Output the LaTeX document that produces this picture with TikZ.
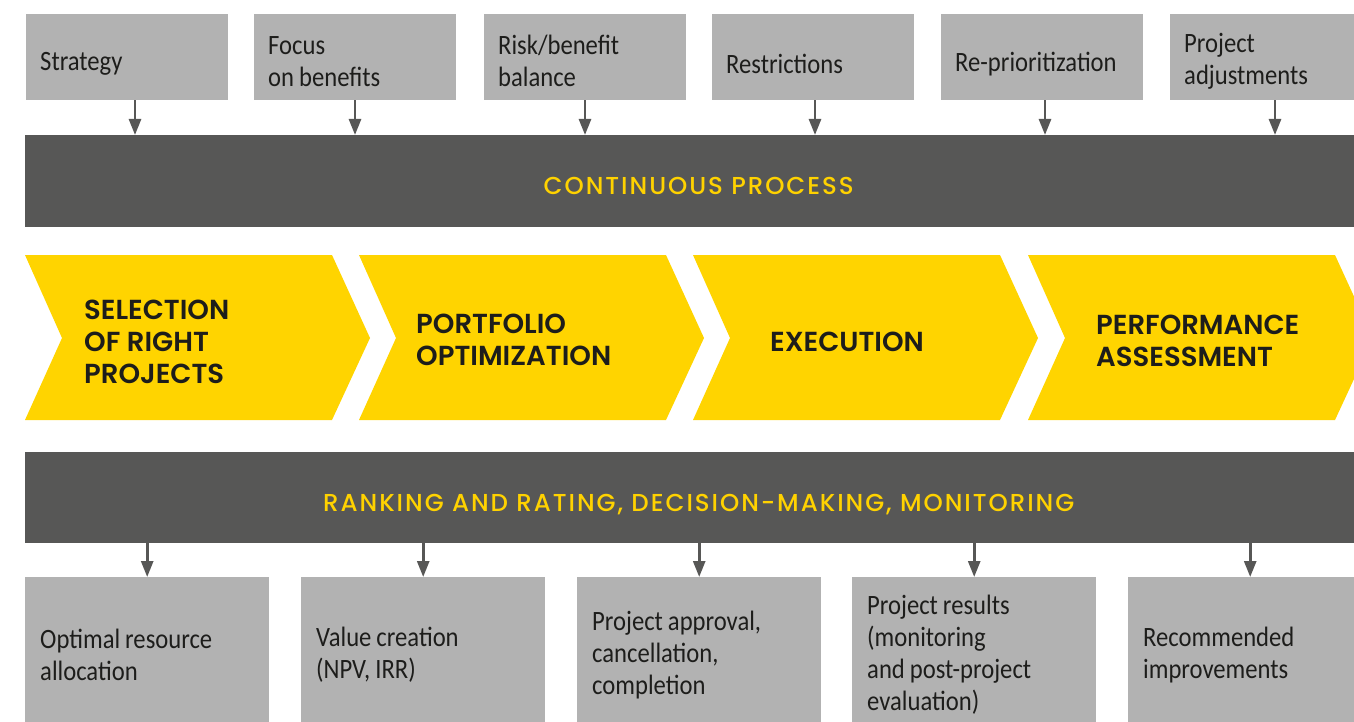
\documentclass[tikz,border=0pt]{standalone}
\usepackage{fontspec}
\setmainfont{Carlito}
\newfontfamily\boxfont{Carlito}[FakeStretch=0.88,WordSpace=0.9]
\newfontfamily\chevfont{Poppins SemiBold}
\newfontfamily\barfont{Poppins Medium}[LetterSpace=8]
\usetikzlibrary{arrows.meta}
\definecolor{boxgray}{HTML}{B2B2B2}
\definecolor{darkbar}{HTML}{575756}
\definecolor{chevyellow}{HTML}{FFD400}
\definecolor{baryellow}{HTML}{FFD200}
\definecolor{textdark}{HTML}{1D1D1B}
\begin{document}
\begin{tikzpicture}[x=1pt,y=-1pt,
  boxtext/.style={align=left, text=textdark, inner sep=0pt,
    font=\boxfont\fontsize{28}{32}\selectfont},
  topbox/.style={fill=boxgray, draw=none, anchor=north west, inner sep=0pt,
    minimum width=202pt, minimum height=86pt},
  toplabel/.style 2 args={label={[boxtext, anchor=west, xshift=14pt, yshift=#2]west:#1}},
  botbox/.style={fill=boxgray, draw=none, anchor=north west, inner sep=0pt,
    minimum width=244pt, minimum height=156pt},
  botlabel/.style={label={[boxtext, anchor=west, xshift=15pt]west:#1}},
  bar/.style={fill=darkbar, draw=none, anchor=north west, inner sep=0pt, minimum width=1347pt,
    text height=27pt, text depth=0pt,
    text=baryellow, font=\barfont\fontsize{24.5}{28}\selectfont},
  chev/.style={fill=chevyellow, draw=none},
  chevtext/.style={anchor=west, align=left, inner sep=0pt, text=textdark,
    font=\chevfont\fontsize{27.5}{32}\selectfont},
  arr/.style={draw=darkbar, line width=2.7pt, -{Triangle[width=12pt,length=16pt]}}
]
\useasboundingbox (0,0) rectangle (1354,722);
\clip (0,0) rectangle (1354,722);

% top boxes
\node[topbox, toplabel={Strategy}{-7pt}] (t1) at (26,14) {};
\node[topbox, toplabel={Focus\\on benefits}{-4pt}] (t2) at (254,14) {};
\node[topbox, toplabel={Risk/benefit\\balance}{-4pt}] (t3) at (484,14) {};
\node[topbox, toplabel={Restrictions}{-7pt}] (t4) at (712,14) {};
\node[topbox, toplabel={Re-prioritization}{-7pt}] (t5) at (941,14) {};
\node[topbox, toplabel={Project\\adjustments}{-4pt}] (t6) at (1170,14) {};

% top bar
\node[bar, minimum height=92pt] (bar1) at (25,135) {CONTINUOUS PROCESS};

% arrows into top bar
\draw[arr] ([xshift=109pt]t1.south west) -- ([xshift=109pt]t1.south west |- bar1.north);
\draw[arr] ([xshift=101pt]t2.south west) -- ([xshift=101pt]t2.south west |- bar1.north);
\draw[arr] ([xshift=101pt]t3.south west) -- ([xshift=101pt]t3.south west |- bar1.north);
\draw[arr] ([xshift=103pt]t4.south west) -- ([xshift=103pt]t4.south west |- bar1.north);
\draw[arr] ([xshift=104pt]t5.south west) -- ([xshift=104pt]t5.south west |- bar1.north);
\draw[arr] ([xshift=105pt]t6.south west) -- ([xshift=105pt]t6.south west |- bar1.north);

% chevrons
\foreach \x in {25,359,693,1028}{
  \fill[chev] (\x,255) -- (\x+307,255) -- (\x+345,338) -- (\x+307,420) -- (\x,420) -- (\x+37,338) -- cycle;
}
\node[chevtext] (c1) at (84,342)   {SELECTION\\OF RIGHT\\PROJECTS};
\node[chevtext] (c2) at (416,340)  {PORTFOLIO\\OPTIMIZATION};
\node[chevtext] (c3) at (770,342)  {EXECUTION};
\node[chevtext] (c4) at (1096,341) {PERFORMANCE\\ASSESSMENT};

% bottom bar
\node[bar, minimum height=91pt] (bar2) at (25,452) {RANKING AND RATING, DECISION-MAKING, MONITORING};

% bottom boxes
\node[botbox, botlabel={Optimal resource\\allocation}] (b1) at (25,577) {};
\node[botbox, botlabel={Value creation\\(NPV, IRR)}] (b2) at (301,577) {};
\node[botbox, botlabel={Project approval,\\cancellation,\\completion}] (b3) at (577,577) {};
\node[botbox, botlabel={Project results\\(monitoring\\and post-project\\evaluation)}] (b4) at (852,577) {};
\node[botbox, botlabel={Recommended\\improvements}] (b5) at (1128,577) {};

% arrows out of bottom bar
\foreach \b in {b1,b2,b3,b4,b5}{
  \draw[arr] (\b.north |- bar2.south) -- (\b.north);
}
\end{tikzpicture}
\end{document}
